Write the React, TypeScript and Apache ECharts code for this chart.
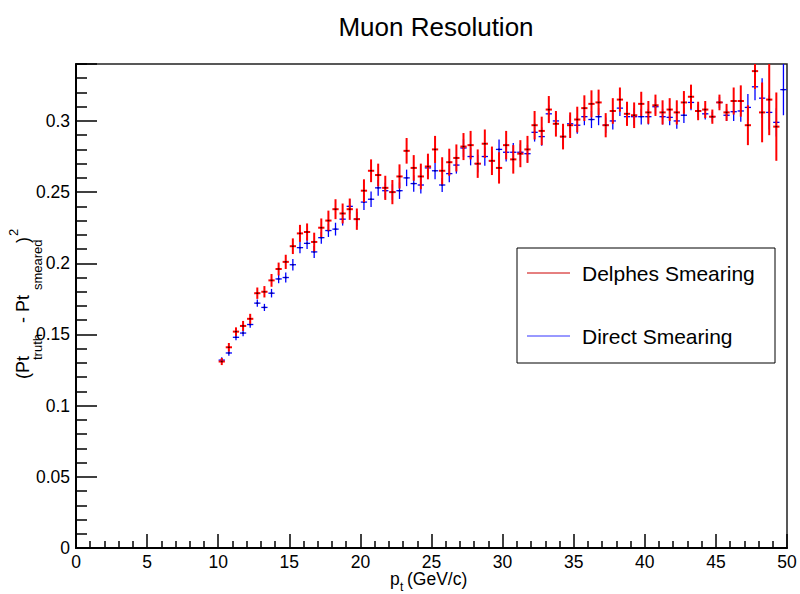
import { useEffect, useRef } from "react";
import * as echarts from "echarts";

// Histogram binning (p_t bins of 0.5 GeV/c starting at 10 GeV/c)
const BIN_START = 10;
const BIN_WIDTH = 0.5;

const seriesNames = ["Delphes Smearing", "Direct Smearing"];

const delphesValues: (number | null)[] = [
  0.131, 0.141, 0.152, 0.156, 0.161, 0.179, 0.180, 0.188, 0.196, 0.201,
  0.212, 0.221, 0.222, 0.215, 0.225, 0.230, 0.238, 0.235, 0.238, 0.231,
  0.251, 0.265, 0.262, 0.253, 0.250, 0.261, 0.279, 0.267, 0.261, 0.268,
  0.280, 0.265, 0.271, 0.274, 0.282, 0.283, 0.270, 0.284, 0.272, 0.267,
  0.283, 0.273, 0.277, 0.280, 0.297, 0.293, 0.308, 0.298, 0.289, 0.297,
  0.301, 0.309, 0.312, 0.313, 0.297, 0.307, 0.315, 0.305, 0.304, 0.312,
  0.306, 0.311, 0.306, 0.308, 0.306, 0.313, 0.317, 0.307, 0.308, 0.303,
  0.313, 0.306, 0.314, 0.314, 0.297, 0.335, 0.306, 0.315, 0.296, null,
];

const delphesErrors: (number | null)[] = [
  0.0025, 0.003, 0.003, 0.0035, 0.0035, 0.004, 0.004, 0.0045, 0.0045, 0.005,
  0.0055, 0.006, 0.006, 0.0065, 0.0065, 0.007, 0.007, 0.007, 0.0075, 0.0075,
  0.008, 0.008, 0.008, 0.0085, 0.0085, 0.0085, 0.009, 0.009, 0.009, 0.009,
  0.0095, 0.0095, 0.0095, 0.0095, 0.0095, 0.01, 0.01, 0.01, 0.01, 0.011,
  0.01, 0.01, 0.0095, 0.0095, 0.01, 0.01, 0.0095, 0.009, 0.009, 0.009,
  0.009, 0.009, 0.0095, 0.009, 0.0085, 0.009, 0.0085, 0.0085, 0.009, 0.0085,
  0.008, 0.0075, 0.0085, 0.008, 0.0085, 0.008, 0.0085, 0.0065, 0.006, 0.005,
  0.0055, 0.006, 0.0095, 0.011, 0.014, 0.0125, 0.021, 0.025, 0.024, null,
];

const directValues: (number | null)[] = [
  0.132, 0.137, 0.148, 0.151, 0.157, 0.172, 0.169, 0.179, 0.189, 0.190,
  0.199, 0.211, 0.214, 0.208, 0.218, 0.223, 0.224, 0.231, 0.240, 0.231,
  0.243, 0.245, 0.253, 0.251, 0.250, 0.251, 0.260, 0.256, 0.255, 0.267,
  0.265, 0.255, 0.263, 0.269, 0.281, 0.275, 0.270, 0.275, 0.272, 0.280,
  0.278, 0.278, 0.278, 0.277, 0.292, 0.289, 0.305, 0.300, 0.289, 0.298,
  0.297, 0.303, 0.301, 0.303, 0.297, 0.300, 0.309, 0.303, 0.303, 0.303,
  0.303, 0.310, 0.303, 0.3025, 0.300, 0.304, 0.313, 0.307, 0.305, 0.303,
  0.313, 0.304, 0.3065, 0.307, 0.3095, 0.324, 0.316, 0.306, 0.299, 0.322,
];

const directErrors: (number | null)[] = [
  0.002, 0.002, 0.002, 0.0022, 0.0022, 0.0025, 0.0025, 0.003, 0.003, 0.0035,
  0.004, 0.004, 0.004, 0.0042, 0.0042, 0.0045, 0.0045, 0.0045, 0.005, 0.005,
  0.0055, 0.0055, 0.0055, 0.0055, 0.0055, 0.0058, 0.0058, 0.0058, 0.006, 0.006,
  0.006, 0.005, 0.006, 0.006, 0.0062, 0.0062, 0.0062, 0.0065, 0.0065, 0.007,
  0.0065, 0.0065, 0.006, 0.006, 0.0065, 0.0065, 0.006, 0.006, 0.006, 0.006,
  0.006, 0.006, 0.006, 0.006, 0.0055, 0.006, 0.0055, 0.0055, 0.006, 0.0055,
  0.0055, 0.005, 0.0055, 0.0055, 0.0055, 0.0055, 0.0055, 0.0045, 0.004, 0.0035,
  0.004, 0.004, 0.0065, 0.0075, 0.0094, 0.0094, 0.014, 0.012, 0.01, 0.018,
];

const X_MIN = 0;
const X_MAX = 50;
const X_INTERVAL = 5;
const Y_MIN = 0;
const Y_MAX = 0.34;
const Y_INTERVAL = 0.05;

const FONT = "'Liberation Sans', Arial, Helvetica, sans-serif";

function buildData(values: (number | null)[], errors: (number | null)[]) {
  const out: number[][] = [];
  values.forEach((v, i) => {
    if (v == null) return;
    out.push([BIN_START + BIN_WIDTH * (i + 0.5), v, errors[i] ?? 0]);
  });
  return out;
}

function makeRenderer(color: string, lineWidth: number, centerColor: string) {
  return (_params: any, api: any) => {
    const x = api.value(0);
    const y = api.value(1);
    const e = api.value(2);
    const c = api.coord([x, y]);
    const top = api.coord([x, y + e]);
    const bot = api.coord([x, y - e]);
    const l = api.coord([x - BIN_WIDTH * 0.44, y]);
    const r = api.coord([x + BIN_WIDTH * 0.44, y]);
    return {
      type: "group",
      children: [
        {
          type: "line",
          shape: { x1: c[0], y1: top[1], x2: c[0], y2: bot[1] },
          style: { stroke: color, lineWidth },
        },
        {
          type: "line",
          shape: { x1: l[0], y1: c[1], x2: r[0], y2: c[1] },
          style: { stroke: color, lineWidth },
        },
        {
          type: "rect",
          shape: { x: c[0] - 1, y: c[1] - 0.75, width: 2, height: 1.5 },
          style: { fill: centerColor },
        },
      ],
    };
  };
}

export default function App() {
  const ref = useRef<HTMLDivElement>(null);

  useEffect(() => {
    if (!ref.current) return;
    const chart = echarts.init(ref.current, undefined, { renderer: "svg" });

    const textBase = { fontFamily: FONT, fill: "#000" };

    chart.setOption({
      animation: false,
      backgroundColor: "#fff",
      title: {
        text: "Muon Resolution",
        left: 431,
        top: 9,
        textAlign: "center",
        textStyle: { fontFamily: FONT, fontSize: 26, fontWeight: "normal", color: "#000" },
      },
      grid: {
        left: 76,
        right: 13,
        top: 64,
        bottom: 46,
        show: true,
        borderColor: "#222",
        borderWidth: 1.5,
        backgroundColor: "transparent",
      },
      xAxis: {
        type: "value",
        min: X_MIN,
        max: X_MAX,
        interval: X_INTERVAL,
        axisLine: { show: true, onZero: false, lineStyle: { color: "#000", width: 2 } },
        axisTick: { show: true, inside: true, length: 14, lineStyle: { color: "#000", width: 1.5 } },
        minorTick: { show: true, splitNumber: 5, length: 7, lineStyle: { color: "#000", width: 1.5 } },
        splitLine: { show: false },
        axisLabel: { color: "#000", fontFamily: FONT, fontSize: 17.5, margin: 5 },
      },
      yAxis: {
        type: "value",
        min: Y_MIN,
        max: Y_MAX,
        interval: Y_INTERVAL,
        axisLine: { show: true, onZero: false, lineStyle: { color: "#000", width: 2 } },
        axisTick: { show: true, inside: true, length: 21, lineStyle: { color: "#000", width: 1.5 } },
        minorTick: { show: true, splitNumber: 5, length: 11, lineStyle: { color: "#000", width: 1.5 } },
        splitLine: { show: false },
        axisLabel: { color: "#000", fontFamily: FONT, fontSize: 17.5, margin: 6, showMaxLabel: false },
      },
      series: [
        {
          name: seriesNames[1],
          type: "custom",
          clip: true,
          renderItem: makeRenderer("#0000ff", 1.3, "#000080"),
          encode: { x: 0, y: 1 },
          data: buildData(directValues, directErrors),
          z: 2,
        },
        {
          name: seriesNames[0],
          type: "custom",
          clip: true,
          renderItem: makeRenderer("#ff0000", 2, "#400000"),
          encode: { x: 0, y: 1 },
          data: buildData(delphesValues, delphesErrors),
          z: 3,
        },
      ],
      graphic: [
        // y-axis title: (Pt_truth - Pt_smeared)^2
        {
          type: "group",
          x: 23,
          y: 379,
          rotation: Math.PI / 2,
          children: [
            { type: "text", x: 0, y: 0, style: { ...textBase, text: "(Pt", fontSize: 18, verticalAlign: "middle" } },
            { type: "text", x: 19, y: 14, style: { ...textBase, text: "truth", fontSize: 13, verticalAlign: "middle" } },
            { type: "text", x: 51, y: 0, style: { ...textBase, text: " - Pt", fontSize: 18, verticalAlign: "middle" } },
            { type: "text", x: 89, y: 14, style: { ...textBase, text: "smeared", fontSize: 13, verticalAlign: "middle" } },
            { type: "text", x: 136, y: 0, style: { ...textBase, text: ")", fontSize: 18, verticalAlign: "middle" } },
            { type: "text", x: 143, y: -10, style: { ...textBase, text: "2", fontSize: 13, verticalAlign: "middle" } },
          ],
        },
        // x-axis title: p_t (GeV/c)
        {
          type: "group",
          x: 390,
          y: 579,
          children: [
            { type: "text", x: 0, y: 0, style: { ...textBase, text: "p", fontSize: 17.5, verticalAlign: "middle" } },
            { type: "text", x: 10, y: 8, style: { ...textBase, text: "t", fontSize: 12, verticalAlign: "middle" } },
            { type: "text", x: 17, y: 0, style: { ...textBase, text: "(GeV/c)", fontSize: 17.5, verticalAlign: "middle" } },
          ],
        },
        // legend box
        {
          type: "group",
          x: 517,
          y: 248,
          children: [
            {
              type: "rect",
              shape: { x: 0, y: 0, width: 258, height: 115 },
              style: { fill: "#fff", stroke: "#000", lineWidth: 1 },
            },
            {
              type: "line",
              shape: { x1: 10, y1: 25, x2: 53, y2: 25 },
              style: { stroke: "#cc0000", lineWidth: 1 },
            },
            {
              type: "text",
              x: 65,
              y: 25,
              style: { ...textBase, text: seriesNames[0], fontSize: 21, verticalAlign: "middle" },
            },
            {
              type: "line",
              shape: { x1: 10, y1: 88, x2: 53, y2: 88 },
              style: { stroke: "#3333ff", lineWidth: 1 },
            },
            {
              type: "text",
              x: 65,
              y: 88,
              style: { ...textBase, text: seriesNames[1], fontSize: 21, verticalAlign: "middle" },
            },
          ],
        },
      ],
    });

    return () => chart.dispose();
  }, []);

  return (
    <div
      ref={ref}
      style={{ position: "fixed", left: 0, top: 0, width: 800, height: 594, background: "#fff" }}
    />
  );
}
